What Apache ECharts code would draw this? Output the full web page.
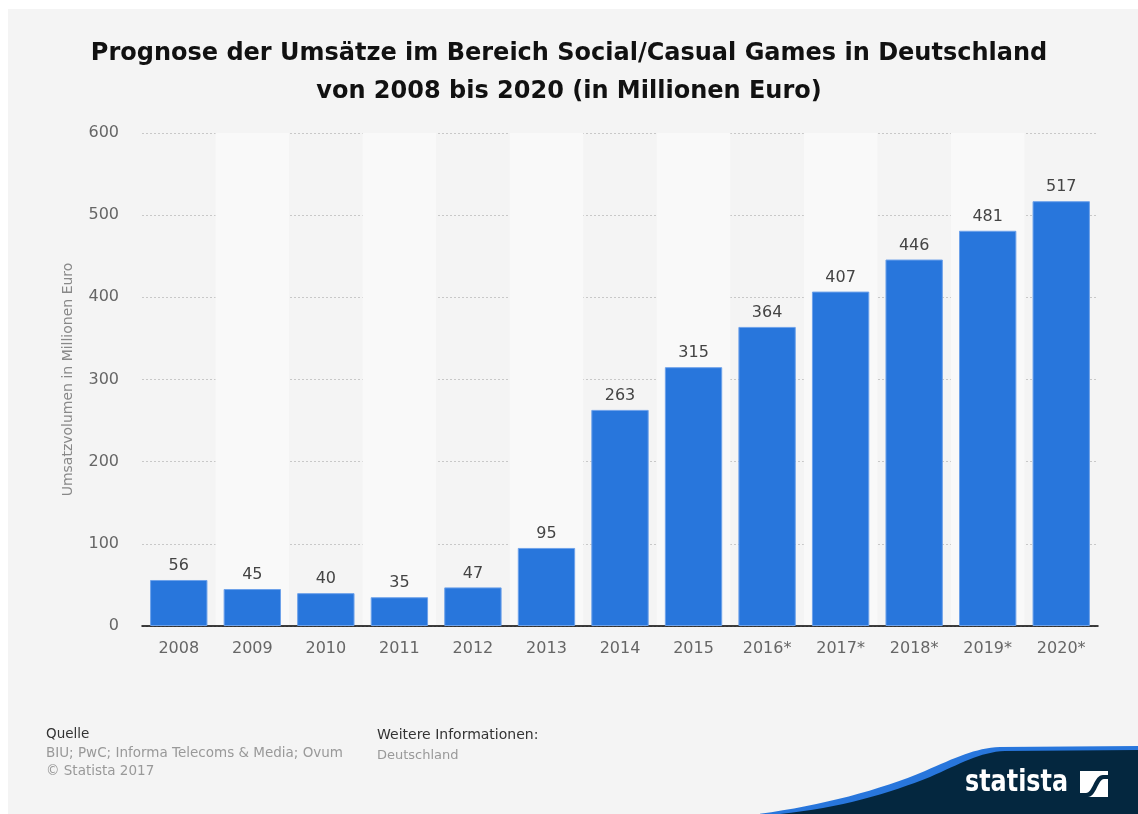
<!DOCTYPE html>
<html>
<head>
<meta charset="utf-8">
<style>
  html, body { margin: 0; padding: 0; background: #fff; }
  #cht { width: 1138px; height: 814px; }
</style>
<script src="https://cdn.jsdelivr.net/npm/echarts@6/dist/echarts.min.js"></script>
</head>
<body>
<div id="cht"></div>
<script>
const years = ['2008', '2009', '2010', '2011', '2012', '2013', '2014', '2015', '2016*', '2017*', '2018*', '2019*', '2020*'];
const revenue = [56, 45, 40, 35, 47, 95, 263, 315, 364, 407, 446, 481, 517];
const yTicks = { min: 0, max: 600, interval: 100 };

const cht = echarts.init(document.getElementById('cht'));
window.onresize = () => cht.resize();

const font = 'DejaVu Sans';

// wave + logo mark as a small svg, placed at x=760, y=740
const waveSvg =
  '<svg xmlns="http://www.w3.org/2000/svg" width="378" height="74" viewBox="760 740 378 74">' +
  '<path d="M758 814 C820 806 880 790 925 771 C955 758 975 748 1000 747 L1138 746 L1138 814 Z" fill="#2876dc"/>' +
  '<path d="M780 814 C840 808 890 793 930 777 C960 764 980 752 1005 751 L1138 750 L1138 814 Z" fill="#04273f"/>' +
  '<rect x="1080" y="771" width="28" height="26" fill="#fff"/>' +
  '<path d="M1080 793 L1086 793 C1093 793 1094 775 1103 775 L1108 775 L1108 779 L1104 779 C1098 779 1096 797 1088 797 L1080 797 Z" fill="#04273f"/>' +
  '</svg>';

const option = {
  backgroundColor: '#fff',
  textStyle: { fontFamily: font },
  title: {
    text: 'Prognose der Umsätze im Bereich Social/Casual Games in Deutschland\nvon 2008 bis 2020 (in Millionen Euro)',
    left: 'center',
    top: 30,
    textStyle: {
      fontFamily: font,
      fontSize: 24,
      fontWeight: 'bold',
      color: '#111',
      lineHeight: 38,
    },
  },
  grid: {
    left: 142,
    right: 40,
    top: 133,
    bottom: 188,
  },
  xAxis: {
    type: 'category',
    data: years,
    axisLine: { lineStyle: { color: '#000', width: 1.5 } },
    axisTick: { show: false },
    axisLabel: { color: '#666', fontSize: 16, margin: 15 },
    splitArea: {
      show: true,
      areaStyle: { color: ['rgba(0,0,0,0)', '#f9f9f9'] },
    },
  },
  yAxis: {
    type: 'value',
    min: yTicks.min,
    max: yTicks.max,
    interval: yTicks.interval,
    name: 'Umsatzvolumen in Millionen Euro',
    nameLocation: 'middle',
    nameGap: 67,
    nameTextStyle: { color: '#888', fontSize: 14 },
    axisLine: { show: false },
    axisTick: { show: false },
    axisLabel: { color: '#666', fontSize: 16, margin: 23 },
    splitLine: { lineStyle: { color: '#c8c8c8', type: [2, 2] } },
  },
  series: [
    {
      type: 'bar',
      data: revenue,
      barCategoryGap: '22%',
      itemStyle: { color: '#2876dc', borderColor: '#6ea2ea', borderWidth: 1 },
      label: {
        show: true,
        position: 'top',
        distance: 6,
        color: '#444',
        fontSize: 16,
      },
    },
  ],
  graphic: [
    {
      type: 'rect',
      z: -10,
      silent: true,
      shape: { x: 8, y: 9, width: 1130, height: 805 },
      style: { fill: '#f4f4f4' },
    },
    {
      type: 'text', x: 46, y: 727,
      style: { text: 'Quelle', fill: '#333', font: '13.5px ' + font },
    },
    {
      type: 'text', x: 46, y: 744,
      style: { text: 'BIU; PwC; Informa Telecoms & Media; Ovum\n© Statista 2017', fill: '#999', font: '13.5px ' + font, lineHeight: 18 },
    },
    {
      type: 'text', x: 377, y: 728,
      style: { text: 'Weitere Informationen:', fill: '#333', font: '14px ' + font },
    },
    {
      type: 'text', x: 377, y: 749,
      style: { text: 'Deutschland', fill: '#999', font: '13px ' + font },
    },
    {
      type: 'image', x: 760, y: 740,
      style: { image: 'data:image/svg+xml;charset=utf-8,' + encodeURIComponent(waveSvg), width: 378, height: 74 },
    },
    {
      type: 'text', x: 965, y: 767, scaleX: 0.77,
      style: { text: 'statista', fill: '#fff', font: 'bold 31px ' + font },
    },
  ],
};

cht.setOption(option);
</script>
</body>
</html>
